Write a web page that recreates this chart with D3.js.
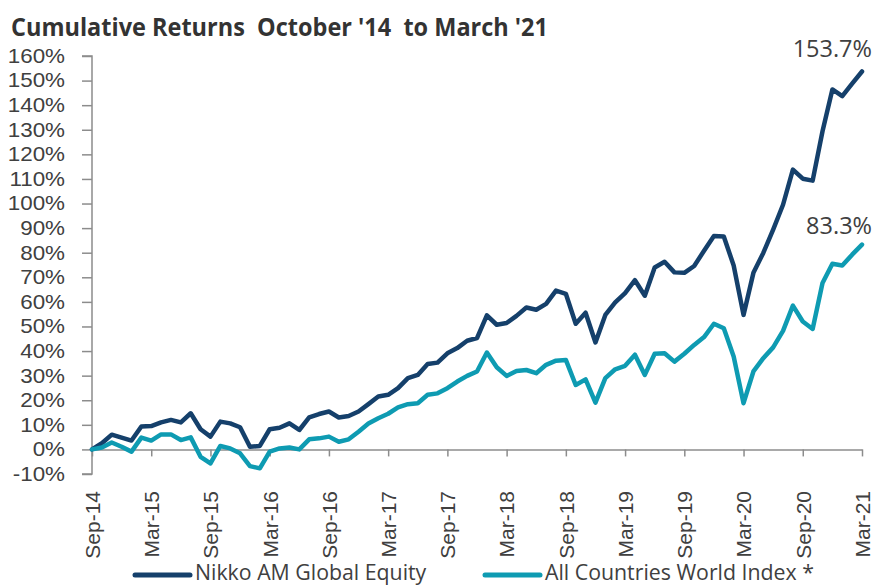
<!DOCTYPE html>
<html><head><meta charset="utf-8">
<script src="https://cdn.jsdelivr.net/npm/d3@7"></script>
<style>
body{margin:0;background:#fff;}
svg{display:block;font-family:"Open Sans","Noto Sans",sans-serif;}
</style></head>
<body><svg id="c" width="873" height="586"></svg>
<script>
const title = "Cumulative Returns  October '14  to March '21";
const startMonth = new Date(2014, 8, 1);
const endMonth = new Date(2021, 2, 1);
const tickLabels = ["Sep-14","Mar-15","Sep-15","Mar-16","Sep-16","Mar-17","Sep-17","Mar-18","Sep-18","Mar-19","Sep-19","Mar-20","Sep-20","Mar-21"];
const yTicks = [-10,0,10,20,30,40,50,60,70,80,90,100,110,120,130,140,150,160];
const seriesNames = ["Nikko AM Global Equity","All Countries World Index *"];
const nikko = [0,2.5,6,4.8,3.6,9.3,9.5,11,12,11,14.7,8.2,5.2,11.3,10.6,9,1.1,1.4,8.2,8.8,10.6,7.9,13,14.4,15.4,13,13.6,15.4,18.4,21.5,22.2,24.9,29,30.3,34.7,35.3,39.1,41.2,44.2,45.3,54.5,50.7,51.4,54.3,57.7,56.8,59.2,64.6,63.3,51.1,55.6,43.5,54.7,59.8,63.6,68.8,62.5,74,76.3,72,71.8,74.6,80.8,86.8,86.6,74.8,54.7,71.8,79.9,89.4,99.5,113.8,110.1,109.3,129.4,146.4,143.7,148.8,153.7];
const acwi = [0,0.8,2.8,1.1,-0.9,4.8,3.6,6.1,6.1,3.8,4.9,-3,-5.7,1.4,0.4,-1.6,-6.8,-7.7,-0.9,0.4,0.8,0,4.1,4.5,5.2,3.1,4.1,7.2,10.5,12.7,14.5,17.1,18.4,18.8,22.2,22.8,24.9,27.6,29.9,31.7,39.4,33.4,29.9,31.9,32.3,31,34.4,36.1,36.4,26.2,28.5,19,29,32.6,34,38.5,30.3,38.9,39.1,35.7,38.9,42.5,45.7,51.1,49.3,37.8,18.8,31.7,37.1,41.5,48.2,58.5,52,49,67.7,75.5,74.8,79.2,83.3];
const endLabels = ["153.7%","83.3%"];

const colors = ["#15406b","#0e9bb2"];
const textColor = "#404040";
const axisColor = "#8c8c8c";

const months = d3.timeMonth.range(startMonth, d3.timeMonth.offset(endMonth,1));
const fmt = d3.timeFormat("%b-%y");

const svg = d3.select("#c");
const x = d3.scalePoint().domain(months.map(fmt)).range([92, 862]);
const y = d3.scaleLinear().domain([-10,160]).range([474, 56]);

// title
svg.append("text").attr("x",11).attr("y",36)
  .attr("font-size",25).attr("font-weight","bold").attr("fill","#333")
  .style("white-space","pre")
  .attr("textLength",537).attr("lengthAdjust","spacingAndGlyphs")
  .text(title);

// y axis
const yAxis = svg.append("g").attr("transform","translate(92,0)")
  .call(d3.axisLeft(y).tickValues(yTicks).tickSize(10).tickPadding(17).tickFormat(d=>d+"%"));
yAxis.select(".domain").attr("stroke",axisColor).attr("stroke-width",1.5).attr("d",`M-10,${y(160)}H0V${y(-10)}H-10`);
yAxis.selectAll(".tick line").attr("stroke",axisColor).attr("stroke-width",1.5);
yAxis.selectAll(".tick text").attr("fill",textColor).attr("font-size",20)
  .attr("x",-27/1.12).attr("transform","scale(1.12,1)");

// x axis at 0%
const xAxis = svg.append("g").attr("transform",`translate(0,${y(0)})`)
  .call(d3.axisBottom(x).tickValues(tickLabels).tickSize(7).tickSizeOuter(0).tickPadding(0));
xAxis.select(".domain").attr("stroke",axisColor).attr("stroke-width",1.5);
xAxis.selectAll(".tick line").attr("stroke",axisColor).attr("stroke-width",1.5);
xAxis.selectAll(".tick text")
  .attr("fill",textColor).attr("font-size",21)
  .attr("transform",`translate(0,${491 - y(0)}) rotate(-90)`)
  .attr("x",0).attr("y",0).attr("dy","0.35em")
  .attr("text-anchor","end");

// lines
const line = d3.line().x((d,i)=>x(fmt(months[i]))).y(d=>y(d));
[nikko, acwi].forEach((s,k)=>{
  svg.append("path").datum(s).attr("d",line)
    .attr("fill","none").attr("stroke",colors[k]).attr("stroke-width",4.5)
    .attr("stroke-linejoin","round").attr("stroke-linecap","round");
});

// end labels
const lastKey = fmt(months[months.length-1]);
svg.append("text").attr("x",x(lastKey)+10).attr("y",y(nikko[nikko.length-1])-14)
  .attr("text-anchor","end").attr("font-size",23.5).attr("fill",textColor).text(endLabels[0]);
svg.append("text").attr("x",x(lastKey)+10).attr("y",y(acwi[acwi.length-1])-11)
  .attr("text-anchor","end").attr("font-size",23.5).attr("fill",textColor).text(endLabels[1]);

// legend
const legend = [{x0:135,tx:195},{x0:485,tx:545}];
seriesNames.forEach((n,k)=>{
  svg.append("line").attr("x1",legend[k].x0).attr("x2",legend[k].x0+55)
    .attr("y1",575).attr("y2",575).attr("stroke",colors[k]).attr("stroke-width",5).attr("stroke-linecap","round");
  svg.append("text").attr("x",legend[k].tx).attr("y",580).attr("font-size",21.3).attr("fill",textColor).text(n);
});
</script></body></html>
